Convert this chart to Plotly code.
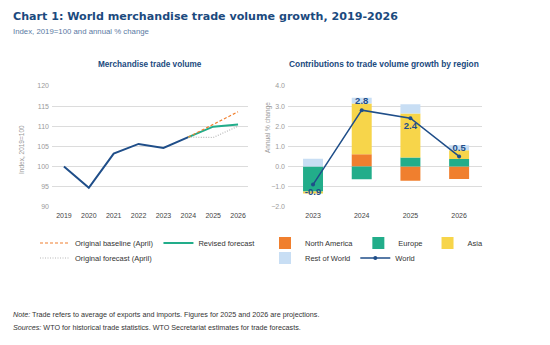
import plotly.graph_objects as go

# ---- data ----
years = [2019, 2020, 2021, 2022, 2023, 2024, 2025, 2026]
hist_years = [2019, 2020, 2021, 2022, 2023, 2024]
hist_index = [100, 94.7, 103.2, 105.6, 104.6, 107.3]
fc_years = [2024, 2025, 2026]
revised = [107.3, 109.9, 110.4]
baseline_april = [107.3, 110.4, 113.6]
forecast_april = [107.3, 107.2, 110.0]

reg_years = [2023, 2024, 2025, 2026]
north_america = [0.0, 0.61, -0.71, -0.62]
europe = [-1.25, -0.64, 0.45, 0.37]
asia = [-0.1, 2.52, 2.18, 0.44]
rest_of_world = [0.38, 0.29, 0.46, 0.25]
world = [-0.9, 2.8, 2.4, 0.5]

BLUE = "#1f4e89"
TITLE = "#1b4a7e"
ORANGE = "#f07f2e"
GREEN = "#22ad8a"
YELLOW = "#f7d54a"
LIGHT = "#c8def4"
GRID = "#dcdcdc"
FONT = "Liberation Sans, Arial, sans-serif"

W, H = 550, 345
def px(x):
    return x / W
def py(y):
    return 1 - y / H

fig = go.Figure()

# left panel
fig.add_trace(go.Scatter(x=hist_years, y=hist_index, mode="lines",
                         line=dict(color=BLUE, width=2), showlegend=False,
                         xaxis="x", yaxis="y"))
fig.add_trace(go.Scatter(x=fc_years, y=forecast_april, mode="lines",
                         name="Original forecast (April)",
                         line=dict(color="#b8b8b8", width=1.2, dash="1px,1.5px"),
                         legend="legend2", xaxis="x", yaxis="y"))
fig.add_trace(go.Scatter(x=fc_years, y=revised, mode="lines",
                         name="Revised forecast",
                         line=dict(color=GREEN, width=2),
                         legend="legend", legendrank=2, xaxis="x", yaxis="y"))
fig.add_trace(go.Scatter(x=fc_years, y=baseline_april, mode="lines",
                         name="Original baseline (April)",
                         line=dict(color=ORANGE, width=1.2, dash="3px,2px"),
                         legend="legend", legendrank=1, xaxis="x", yaxis="y"))

# right panel
bw = 0.41
for name, vals, col, lg in [("North America", north_america, ORANGE, "legend3"),
                            ("Europe", europe, GREEN, "legend3"),
                            ("Asia", asia, YELLOW, "legend3"),
                            ("Rest of World", rest_of_world, LIGHT, "legend4")]:
    fig.add_trace(go.Bar(x=reg_years, y=vals, name=name, marker=dict(color=col, line=dict(width=0)),
                         width=bw, legend=lg, xaxis="x2", yaxis="y2"))

fig.add_trace(go.Scatter(x=reg_years, y=world, mode="lines+markers+text", name="World",
                         line=dict(color=BLUE, width=1.5),
                         marker=dict(color=BLUE, size=4),
                         texttemplate="%{y:.1f}",
                         textposition=["bottom center", "top center", "bottom center", "top center"],
                         textfont=dict(family=FONT, size=9.5, color=BLUE, weight="bold"),
                         legend="legend4", xaxis="x2", yaxis="y2"))

tickf = dict(family=FONT, size=7, color="#9a9a9a")
xtickf = dict(family=FONT, size=7, color="#444444")
ydom = [py(206.7), py(86)]

leg_common = dict(orientation="h", font=dict(family=FONT, size=7.5, color="#333333"),
                  bgcolor="rgba(0,0,0,0)", yanchor="middle", xanchor="left",
                  tracegroupgap=0, itemwidth=30, traceorder="normal")

fig.update_layout(
    width=W, height=H, autosize=False,
    margin=dict(l=0, r=0, t=0, b=0),
    paper_bgcolor="white", plot_bgcolor="white",
    barmode="relative",
    font=dict(family=FONT),
    xaxis=dict(domain=[px(52), px(248)], range=[2018.52, 2026.4], tickvals=years,
               showgrid=False, zeroline=False, showline=False, ticks="",
               tickfont=xtickf, anchor="y", automargin=False, ticklabelstandoff=3),
    yaxis=dict(domain=ydom, range=[90, 120], dtick=5, gridcolor=GRID, gridwidth=1,
               zeroline=False, showline=False, ticks="", tickfont=tickf, anchor="x",
               automargin=False, ticklabelstandoff=2),
    xaxis2=dict(domain=[px(288), px(482)], range=[2022.486, 2026.47], tickvals=reg_years,
                showgrid=False, zeroline=False, showline=False, ticks="",
                tickfont=xtickf, anchor="y2", automargin=False, ticklabelstandoff=3),
    yaxis2=dict(domain=ydom, range=[-2, 4], dtick=1, tickformat=".1f", gridcolor=GRID,
                gridwidth=1, zeroline=False, showline=False, ticks="", tickfont=tickf,
                anchor="x2", automargin=False, ticklabelstandoff=2),
    legend=dict(leg_common, x=px(35), y=py(243)),
    legend2=dict(leg_common, x=px(35), y=py(258)),
    legend3=dict(leg_common, x=px(265), y=py(243)),
    legend4=dict(leg_common, x=px(265), y=py(258)),
)

annos = [
    dict(text="<b>Chart 1: World merchandise trade volume growth, 2019-2026</b>",
         x=px(11), y=py(16.5), font=dict(family="DejaVu Sans", size=11.1, color=TITLE)),
    dict(text="Index, 2019=100 and annual % change",
         x=px(11), y=py(31), font=dict(family=FONT, size=7.8, color="#5b7aa3")),
    dict(text="<b>Merchandise trade volume</b>", x=px(150), y=py(64), xanchor="center",
         font=dict(family=FONT, size=8.2, color=TITLE)),
    dict(text="<b>Contributions to trade volume growth by region</b>", x=px(384), y=py(64),
         xanchor="center", font=dict(family=FONT, size=8.4, color=TITLE)),
    dict(text="<i>Note:</i> Trade refers to average of exports and imports. Figures for 2025 and 2026 are projections.",
         x=px(11), y=py(314), font=dict(family=FONT, size=7.2, color="#333333")),
    dict(text="<i>Sources:</i> WTO for historical trade statistics. WTO Secretariat estimates for trade forecasts.",
         x=px(11), y=py(327), font=dict(family=FONT, size=7.2, color="#333333")),
    dict(text="Index, 2019=100", x=px(22), y=py(150), xanchor="center", textangle=-90,
         font=dict(family=FONT, size=6.5, color="#9a9a9a")),
    dict(text="Annual % change", x=px(268), y=py(128), xanchor="center", textangle=-90,
         font=dict(family=FONT, size=6.5, color="#9a9a9a")),
]
for a in annos:
    a.setdefault("xanchor", "left")
    fig.add_annotation(xref="paper", yref="paper", showarrow=False, yanchor="middle", **a)

fig.write_html("out.html")
